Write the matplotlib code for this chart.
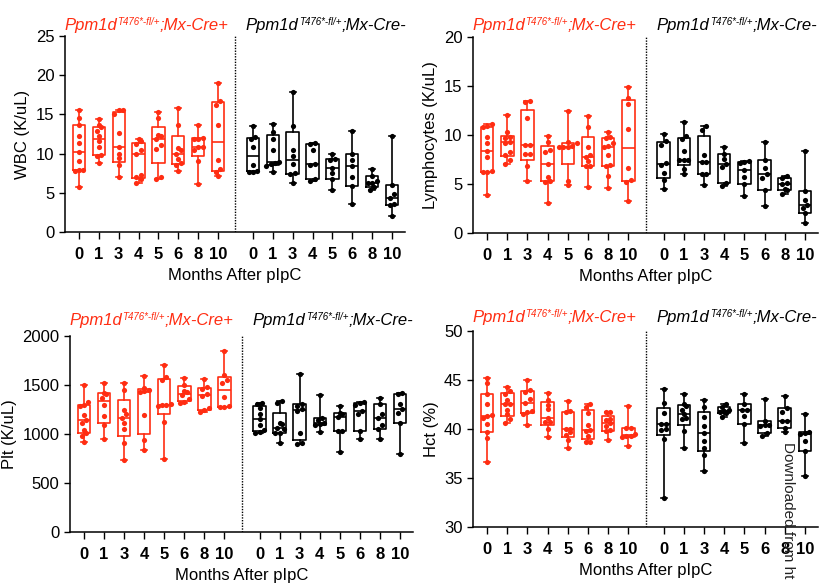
import numpy as np
import matplotlib
matplotlib.use("Agg")
import matplotlib.pyplot as plt

plt.rcParams['font.family'] = ['Liberation Sans', 'DejaVu Sans']

months = ['0', '1', '3', '4', '5', '6', '8', '10']
groups = ['Mx-Cre+', 'Mx-Cre-']

# WBC (K/uL)
wbc_pos = [
    [15.6, 14.5, 13.6, 12.3, 11.4, 10.2, 9.1, 7.9, 7.9, 7.8, 5.7],
    [14.4, 13.6, 13.4, 12.9, 12.2, 11.6, 10.9, 9.8, 9.7, 8.8],
    [15.6, 15.5, 15.1, 12.6, 10.8, 10.0, 9.4, 8.5, 7.0],
    [11.8, 11.6, 11.2, 10.4, 10.0, 7.3, 7.0, 6.8, 6.3],
    [15.3, 14.5, 12.4, 12.3, 11.8, 11.1, 10.6, 7.0, 6.7],
    [15.8, 13.7, 10.7, 10.4, 9.9, 9.3, 8.8, 8.6, 7.8],
    [13.6, 12.0, 11.9, 11.9, 10.9, 10.8, 10.4, 9.0, 6.1],
    [19.0, 16.7, 16.2, 13.7, 9.2, 8.0, 7.7, 7.1],
]
wbc_neg = [
    [13.5, 12.1, 11.8, 10.9, 8.5, 7.8, 7.7, 7.6],
    [13.8, 12.8, 11.9, 10.5, 8.9, 8.85, 8.7, 8.4, 7.6],
    [17.8, 13.55, 10.4, 9.7, 8.7, 7.5, 7.4, 6.3],
    [11.35, 11.2, 10.4, 8.7, 8.6, 6.7, 6.5],
    [9.9, 9.3, 9.2, 8.2, 7.5, 6.7, 5.35],
    [12.85, 9.9, 9.2, 8.4, 7.0, 5.9, 3.55],
    [8.0, 7.1, 6.5, 6.3, 6.2, 5.8, 5.4],
    [12.3, 6.0, 4.9, 4.4, 3.6, 3.4, 2.1],
]

# Lymphocytes (K/uL)
lym_pos = [
    [11.1, 10.9, 10.85, 9.8, 9.2, 8.4, 7.8, 6.3, 6.25, 6.2, 3.9],
    [12.0, 10.3, 9.75, 9.7, 9.3, 9.2, 8.3, 7.95, 7.4, 7.0],
    [13.45, 13.35, 11.75, 9.0, 8.95, 8.1, 8.05, 6.8, 5.35],
    [9.85, 9.3, 8.5, 8.3, 7.0, 5.75, 5.35, 5.2, 3.05],
    [12.4, 9.3, 9.15, 8.9, 8.8, 8.75, 8.75, 5.35, 4.9],
    [11.95, 10.85, 8.75, 8.0, 7.8, 7.35, 6.85, 6.8, 4.65],
    [10.35, 9.75, 9.65, 9.2, 8.85, 8.8, 7.95, 6.9, 6.85, 5.85, 4.6],
    [14.85, 13.75, 13.15, 10.65, 6.6, 5.4, 5.25, 3.3],
]
lym_neg = [
    [10.15, 9.4, 9.0, 7.15, 6.9, 6.1, 5.4, 4.45],
    [11.35, 9.85, 9.6, 8.4, 7.45, 7.4, 7.4, 6.5, 6.0],
    [10.9, 10.5, 7.95, 7.25, 7.2, 6.05, 6.0, 4.9],
    [8.8, 8.05, 7.6, 7.0, 6.7, 5.15, 4.8],
    [7.35, 7.25, 7.1, 6.45, 5.7, 5.05, 3.8],
    [9.3, 7.4, 6.6, 6.0, 5.6, 4.4, 2.8],
    [5.8, 5.65, 5.1, 4.95, 4.5, 4.35, 3.95],
    [8.4, 4.3, 3.35, 2.9, 2.6, 2.05, 1.0],
]

# Plt (K/uL)
plt_pos = [
    [1502, 1325, 1298, 1285, 1197, 1142, 1112, 1040, 1015, 976, 920],
    [1522, 1420, 1410, 1370, 1300, 1180, 1095, 953],
    [1522, 1451, 1241, 1200, 1163, 1115, 1047, 912, 732],
    [1590, 1471, 1444, 1434, 1427, 1190, 936, 837],
    [1708, 1580, 1546, 1308, 1298, 1292, 1281, 1122, 742],
    [1569, 1502, 1437, 1427, 1393, 1353, 1325, 1320],
    [1566, 1475, 1464, 1407, 1386, 1261, 1244, 1227],
    [1844, 1600, 1546, 1520, 1380, 1285, 1278, 1275],
]
plt_neg = [
    [1315, 1305, 1261, 1203, 1156, 1092, 1041, 1020, 1014],
    [1339, 1319, 1115, 1105, 1064, 1047, 1010, 1007, 912],
    [1614, 1308, 1290, 1251, 1231, 1014, 909, 895],
    [1393, 1166, 1139, 1115, 1105, 1095, 1020],
    [1281, 1217, 1200, 1173, 1027, 1027, 817],
    [1325, 1319, 1292, 1231, 1200, 1030, 953],
    [1366, 1302, 1200, 1163, 1088, 1054, 946],
    [1420, 1405, 1308, 1251, 1214, 1110, 800],
]

# Hct (%)
hct_pos = [
    [45.2, 44.7, 43.55, 42.5, 41.4, 41.3, 41.1, 40.5, 39.65, 39.1, 36.6],
    [44.25, 43.9, 43.55, 42.95, 42.6, 42.5, 41.95, 41.5, 41.0, 40.65],
    [45.05, 44.0, 43.8, 43.05, 42.7, 41.85, 41.7, 41.5, 40.4],
    [43.7, 43.0, 42.45, 42.0, 41.15, 40.75, 40.7, 40.05, 39.2],
    [42.9, 41.8, 41.7, 40.05, 40.0, 39.65, 39.4, 38.9, 38.1],
    [42.6, 42.2, 41.6, 40.4, 39.9, 39.8, 39.3, 38.7, 38.65],
    [41.75, 41.7, 41.0, 40.9, 40.65, 40.3, 39.9, 39.75, 38.9],
    [42.35, 40.15, 40.1, 39.5, 39.3, 39.25, 39.2, 38.3],
]
hct_neg = [
    [44.05, 42.7, 41.65, 40.55, 40.5, 40.0, 39.85, 39.0, 33.0],
    [43.55, 42.55, 42.35, 41.95, 41.5, 41.1, 41.0, 39.8, 38.1],
    [43.0, 42.2, 41.2, 40.3, 39.6, 38.8, 38.1, 37.35, 35.7],
    [42.5, 42.2, 41.95, 41.85, 41.75, 41.6, 41.2],
    [43.55, 42.6, 41.95, 41.9, 41.35, 40.5, 38.55],
    [43.1, 40.85, 40.45, 40.4, 40.3, 39.55, 39.25],
    [43.4, 42.1, 41.75, 40.85, 40.8, 40.15, 39.65],
    [41.5, 39.65, 39.6, 39.5, 38.8, 37.75, 35.25],
]

RED = '#FF2D12'
BLACK = '#000000'
GAP = 8.75  # x position of first black box


def spread(vals, thr):
    # push points of about the same value apart sideways
    vals = np.asarray(vals, float)
    order = np.argsort(vals)
    offs = np.zeros(len(vals))
    i = 0
    while i < len(order):
        j = i
        while j + 1 < len(order) and vals[order[j + 1]] - vals[order[i]] < thr:
            j += 1
        k = j - i + 1
        offs[order[i:j + 1]] = (np.arange(k) - (k - 1) / 2) * 0.22
        i = j + 1
    return offs


def draw_group(ax, data, x0, color, thr):
    stats = []
    for g in data:
        q1, med, q3 = np.percentile(g, [25, 50, 75], method='weibull')
        stats.append({'med': med, 'q1': q1, 'q3': q3,
                      'whislo': min(g), 'whishi': max(g), 'fliers': []})
    pos = x0 + np.arange(len(data))
    ax.bxp(stats, positions=pos, widths=0.62, capwidths=0.3, showfliers=False,
           boxprops=dict(color=color, lw=1.2),
           medianprops=dict(color=color, lw=1.2),
           whiskerprops=dict(color=color, lw=1.2),
           capprops=dict(color=color, lw=1.2))
    for p, g in zip(pos, data):
        ax.scatter(p + spread(g, thr), g, s=14, color=color, zorder=3, lw=0)


def title(ax, x, y, color, suffix):
    tr = ax.get_xaxis_transform()
    t1 = ax.text(x, y, 'Ppm1d', transform=tr, color=color, style='italic',
                 fontsize=12, va='baseline', ha='left', clip_on=False)
    t2 = ax.annotate('T476*-fl/+', xy=(1, 0), xycoords=t1, xytext=(0.6, 4.6),
                     textcoords='offset points', color=color, style='italic',
                     fontsize=7, va='bottom', ha='left')
    ax.annotate(';' + suffix, xy=(1, 0), xycoords=(t2, t1), color=color,
                style='italic', fontsize=12, va='bottom', ha='left')


def panel(rect, pos_data, neg_data, ylim, yticks, ylabel, ty):
    ax = fig.add_axes(rect)
    rng = ylim[1] - ylim[0]
    draw_group(ax, pos_data, 0, RED, rng * 0.022)
    draw_group(ax, neg_data, GAP, BLACK, rng * 0.022)
    ax.axvline((7 + GAP) / 2, color='black', lw=1, ls=(0, (1, 1)))
    ax.set_xlim(-0.7, GAP + 7 + 0.65)
    ax.set_ylim(*ylim)
    ax.set_yticks(yticks)
    ticks = list(range(8)) + list(GAP + np.arange(8))
    ax.set_xticks(ticks)
    ax.set_xticklabels(months + months, fontweight='bold', fontsize=12)
    ax.tick_params(axis='y', labelsize=12, length=4, width=1)
    ax.tick_params(axis='x', length=5, width=1, pad=6)
    for s in ['top', 'right']:
        ax.spines[s].set_visible(False)
    for s in ['left', 'bottom']:
        ax.spines[s].set_linewidth(1.1)
    ax.set_ylabel(ylabel, fontsize=12)
    ax.set_xlabel('Months After pIpC', fontsize=12, labelpad=4)
    title(ax, -0.75, ty, RED, groups[0])
    title(ax, GAP - 0.35, ty, BLACK, groups[1])
    return ax


fig = plt.figure(figsize=(8.23, 5.84), dpi=100)
W, H = 823, 584


def rect(l, r, top, bottom):
    return [l / W, 1 - bottom / H, (r - l) / W, (bottom - top) / H]


panel(rect(65, 405, 36, 232), wbc_pos, wbc_neg, (0, 25), range(0, 26, 5),
      'WBC (K/uL)', 1.03)
panel(rect(473, 818, 37, 233), lym_pos, lym_neg, (0, 20), range(0, 21, 5),
      'Lymphocytes (K/uL)', 1.036)
panel(rect(70, 413, 336, 532), plt_pos, plt_neg, (0, 2000), range(0, 2001, 500),
      'Plt (K/uL)', 1.056)
panel(rect(473, 818, 331, 527), hct_pos, hct_neg, (30, 50), range(30, 51, 5),
      'Hct (%)', 1.046)

fig.text(788 / W, 1 - 442 / H, 'Downloaded from ht', rotation=270,
         fontsize=11, ha='center', va='top', color='#222222')

fig.savefig('out.png', dpi=100)
